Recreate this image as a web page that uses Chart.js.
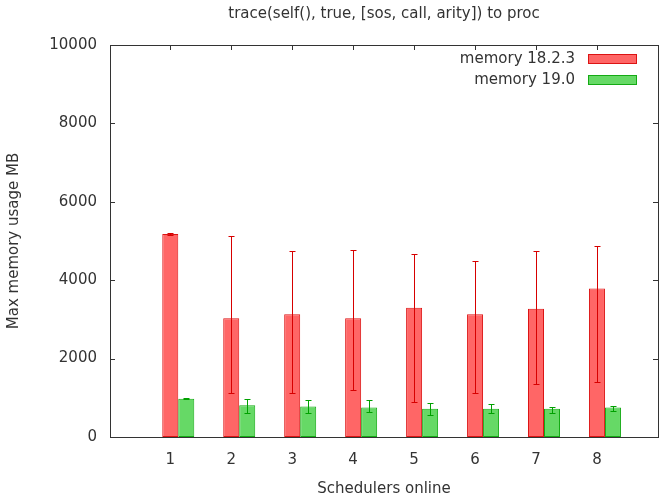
<!DOCTYPE html>
<html>
<head>
<meta charset="utf-8">
<script src="https://cdn.jsdelivr.net/npm/chart.js@4.4.1/dist/chart.umd.min.js"></script>
<style>
  html, body { margin: 0; padding: 0; background: #fff; }
  #wrap { width: 662px; height: 500px; }
</style>
</head>
<body>
<div id="wrap"><canvas id="chart"></canvas></div>
<script>
var schedulers = [1, 2, 3, 4, 5, 6, 7, 8];
var yTicks = [0, 2000, 4000, 6000, 8000, 10000];

// memory 18.2.3
var oldMem = [5180, 3030, 3130, 3030, 3300, 3130, 3270, 3790];
var oldLow = [5160, 1120, 1120, 1190, 890, 1120, 1340, 1410];
var oldHigh = [5200, 5130, 4740, 4760, 4680, 4480, 4740, 4880];

// memory 19.0
var newMem = [975, 810, 780, 750, 720, 720, 720, 750];
var newLow = [965, 600, 600, 640, 550, 600, 610, 660];
var newHigh = [985, 970, 940, 940, 860, 830, 770, 800];

var textColor = '#333';
var fontName = '"DejaVu Sans", sans-serif';
var fontSize = 15;

function points(vals) {
    return schedulers.map(function (s, i) { return { x: s, y: vals[i] }; });
}

// frame, inward tick marks (gnuplot style)
var framePlugin = {
    id: 'frame',
    beforeDatasetsDraw: function (chart) {
        var ctx = chart.ctx, a = chart.chartArea;
        var xs = chart.scales.x, ys = chart.scales.y;
        var half = chart.getDatasetMeta(0).data[0].width / 2;
        ctx.save();
        ctx.strokeStyle = '#333';
        ctx.lineWidth = 1;
        ctx.beginPath();
        yTicks.forEach(function (v) {
            var y = Math.round(ys.getPixelForValue(v)) + 0.5;
            ctx.moveTo(a.left, y); ctx.lineTo(a.left + 5, y);
            ctx.moveTo(a.right, y); ctx.lineTo(a.right - 5, y);
        });
        schedulers.forEach(function (s) {
            var x = Math.round(xs.getPixelForValue(s) - half) + 0.5;
            ctx.moveTo(x, a.top); ctx.lineTo(x, a.top + 5);
            ctx.moveTo(x, a.bottom); ctx.lineTo(x, a.bottom - 5);
        });
        ctx.stroke();
        ctx.strokeRect(Math.round(a.left) + 0.5, Math.round(a.top) + 0.5,
            Math.round(a.right - a.left), Math.round(a.bottom - a.top));
        ctx.restore();
    }
};

// error bars + legend in the top right corner
var errorPlugin = {
    id: 'errbars',
    afterDatasetsDraw: function (chart) {
        var ctx = chart.ctx, ys = chart.scales.y, a = chart.chartArea;
        ctx.save();
        ctx.lineWidth = 1;
        chart.data.datasets.forEach(function (ds, di) {
            var meta = chart.getDatasetMeta(di);
            ctx.strokeStyle = ds.errColor;
            ctx.beginPath();
            meta.data.forEach(function (bar, i) {
                var x = Math.round(bar.x) + 0.5;
                var y1 = Math.round(ys.getPixelForValue(ds.low[i])) + 0.5;
                var y2 = Math.round(ys.getPixelForValue(ds.high[i])) + 0.5;
                ctx.moveTo(x, y1); ctx.lineTo(x, y2);
                ctx.moveTo(x - 3, y1); ctx.lineTo(x + 3, y1);
                ctx.moveTo(x - 3, y2); ctx.lineTo(x + 3, y2);
            });
            ctx.stroke();

            // legend row
            var rowY = a.top + 14 + di * 21;
            ctx.font = fontSize + 'px ' + fontName;
            ctx.fillStyle = textColor;
            ctx.textAlign = 'right';
            ctx.textBaseline = 'middle';
            ctx.fillText(ds.label, a.right - 83, rowY);
            ctx.fillStyle = ds.backgroundColor;
            ctx.fillRect(a.right - 70, rowY - 5, 49, 10);
            ctx.strokeStyle = ds.borderColor;
            ctx.strokeRect(a.right - 69.5, rowY - 4.5, 48, 9);
        });
        ctx.restore();
    }
};

var ctx = document.getElementById('chart').getContext('2d');
var chart = new Chart(ctx, {
    type: 'bar',
    data: {
        datasets: [{
            label: 'memory 18.2.3',
            data: points(oldMem),
            low: oldLow,
            high: oldHigh,
            backgroundColor: 'rgb(255,102,102)',
            borderColor: 'rgb(220,20,20)',
            errColor: 'rgb(215,0,0)',
            borderWidth: 1,
            borderSkipped: false
        }, {
            label: 'memory 19.0',
            data: points(newMem),
            low: newLow,
            high: newHigh,
            backgroundColor: 'rgb(102,217,102)',
            borderColor: 'rgb(20,170,20)',
            errColor: 'rgb(0,160,0)',
            borderWidth: 1,
            borderSkipped: false
        }]
    },
    options: {
        responsive: true,
        maintainAspectRatio: false,
        animation: false,
        categoryPercentage: 0.525,
        barPercentage: 1,
        layout: { padding: { left: 0, right: 4, top: 0, bottom: 0 } },
        plugins: {
            legend: { display: false },
            tooltip: { enabled: false },
            title: {
                display: true,
                fullSize: false,
                text: 'trace(self(), true, [sos, call, arity]) to proc',
                color: textColor,
                font: { family: fontName, size: fontSize, weight: 'normal' },
                padding: { top: 5, bottom: 22 }
            }
        },
        scales: {
            x: {
                type: 'linear',
                offset: false,
                min: -0.12,
                max: 8.87,
                grid: { display: false, drawTicks: false },
                border: { display: false },
                afterBuildTicks: function (s) {
                    s.ticks = schedulers.map(function (v) { return { value: v }; });
                },
                afterFit: function (s) { s.height = 63; },
                ticks: {
                    color: textColor,
                    font: { family: fontName, size: fontSize },
                    padding: 14,
                    labelOffset: -8,
                    maxRotation: 0,
                    autoSkip: false,
                    callback: function (v) { return String(v); }
                },
                title: {
                    display: true,
                    text: 'Schedulers online',
                    color: textColor,
                    font: { family: fontName, size: fontSize },
                    padding: { top: 4, bottom: 2 }
                }
            },
            y: {
                min: 0,
                max: 10000,
                grid: { display: false, drawTicks: false },
                border: { display: false },
                afterBuildTicks: function (s) {
                    s.ticks = yTicks.map(function (v) { return { value: v }; });
                },
                afterFit: function (s) { s.width = 110; },
                ticks: {
                    color: textColor,
                    font: { family: fontName, size: fontSize },
                    padding: 13,
                    callback: function (v) { return String(v); }
                },
                title: {
                    display: true,
                    text: 'Max memory usage MB',
                    color: textColor,
                    font: { family: fontName, size: fontSize },
                    padding: { top: 5, bottom: 4 }
                }
            }
        }
    },
    plugins: [framePlugin, errorPlugin]
});
</script>
</body>
</html>
